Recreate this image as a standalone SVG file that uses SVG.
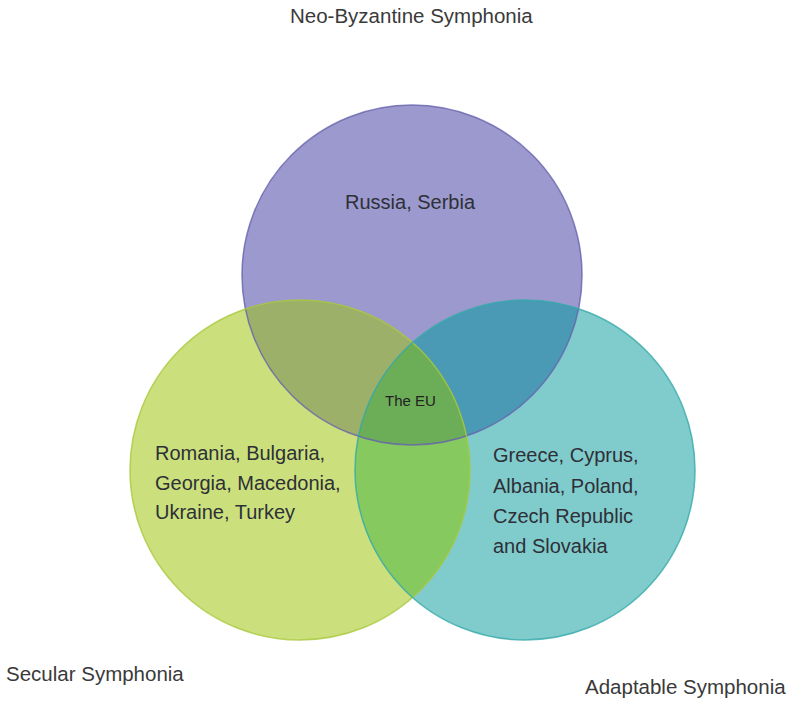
<svg xmlns="http://www.w3.org/2000/svg" width="788" height="701" viewBox="0 0 788 701">
<style>
.lbl{font-family:"Liberation Sans",Arial,sans-serif;font-size:20.5px;fill:#3a3a3a}
.in{font-family:"Liberation Sans",Arial,sans-serif;font-size:20px;fill:#2e3038}
.eu{font-family:"Liberation Sans",Arial,sans-serif;font-size:15px;fill:#222}
.ring{fill:none;stroke-width:1.5}
</style>
<defs>
<clipPath id="cP"><circle cx="412" cy="275" r="170"/></clipPath>
<clipPath id="cG"><circle cx="300" cy="470" r="170"/></clipPath>
<clipPath id="cT"><circle cx="525" cy="470" r="170"/></clipPath>
</defs>
<rect width="788" height="701" fill="#fff"/>
<g id="node-neo">
<circle cx="412" cy="275" r="170" fill="#9b99cd"/>
</g>
<g id="node-secular">
<circle cx="300" cy="470" r="170" fill="#cbe07c"/>
</g>
<g id="node-adaptable">
<circle cx="525" cy="470" r="170" fill="#80cbcb"/>
</g>
<g id="overlaps">
<g clip-path="url(#cP)"><circle cx="300" cy="470" r="170" fill="#9cb06a"/><circle cx="525" cy="470" r="170" fill="#4a9ab6"/></g>
<g clip-path="url(#cG)"><circle cx="525" cy="470" r="170" fill="#86c95e"/></g>
<g clip-path="url(#cP)"><g clip-path="url(#cG)"><circle cx="525" cy="470" r="170" fill="#6cad58"/></g></g>
</g>
<g id="connectors">
<circle class="ring" cx="412" cy="275" r="170" stroke="#6661ad" stroke-opacity="0.8"/>
<circle class="ring" cx="300" cy="470" r="170" stroke="#a8c83c" stroke-opacity="0.8"/>
<circle class="ring" cx="525" cy="470" r="170" stroke="#35a9a9" stroke-opacity="0.8"/>
</g>
<g id="labels">
<text class="lbl" x="290" y="23">Neo-Byzantine Symphonia</text>
<text class="lbl" x="6" y="681">Secular Symphonia</text>
<text class="lbl" x="585" y="694">Adaptable Symphonia</text>
<text class="in" x="345" y="209">Russia, Serbia</text>
<text class="in" x="155" y="460">Romania, Bulgaria,</text>
<text class="in" x="155" y="490">Georgia, Macedonia,</text>
<text class="in" x="155" y="519">Ukraine, Turkey</text>
<text class="in" x="493" y="462">Greece, Cyprus,</text>
<text class="in" x="493" y="493">Albania, Poland,</text>
<text class="in" x="493" y="523">Czech Republic</text>
<text class="in" x="493" y="553">and Slovakia</text>
<text class="eu" x="385" y="406">The EU</text>
</g>
</svg>
